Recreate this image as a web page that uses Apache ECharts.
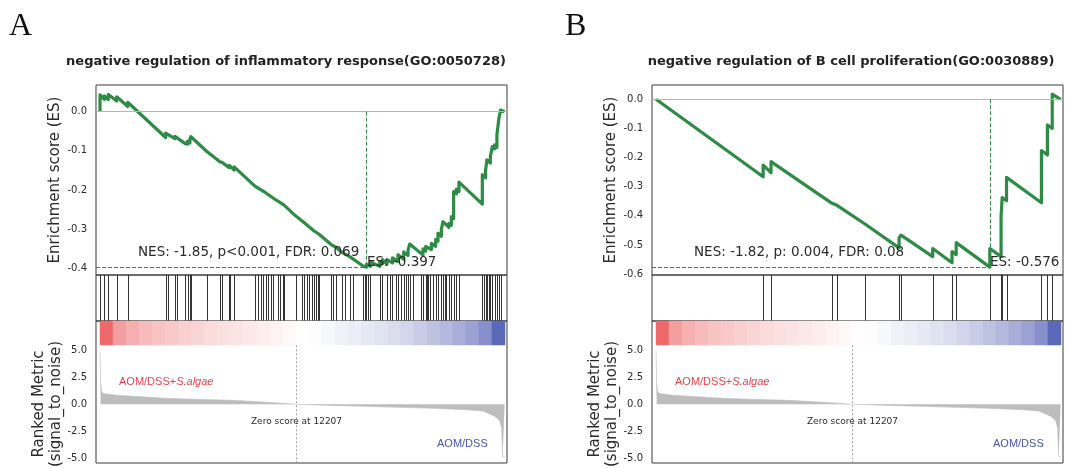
<!DOCTYPE html>
<html>
<head>
<meta charset="utf-8">
<script src="https://cdn.jsdelivr.net/npm/echarts@6/dist/echarts.min.js"></script>
<style>
html, body { margin: 0; padding: 0; background: #fff; }
#main { width: 1069px; height: 468px; }
</style>
</head>
<body>
<div id="main"></div>
<script>
// running enrichment score, [rank, ES]
var esA = [
    [0, 0], [0, 0.043], [267, 0.031], [267, 0.040], [515, 0.031], [515, 0.044], [1037, 0.027], [1037, 0.038], [1720, 0.013], [1720, 0.024],
    [4080, -0.066], [4080, -0.055], [4204, -0.060], [4204, -0.052], [4658, -0.069], [4658, -0.063], [4763, -0.067], [4763, -0.061],
    [5279, -0.081], [5279, -0.077], [5446, -0.083], [5446, -0.075], [5589, -0.080], [5589, -0.070], [5651, -0.072], [5651, -0.064],
    [6626, -0.101], [6626, -0.097], [7452, -0.128], [7452, -0.124], [7595, -0.130], [7595, -0.127], [8030, -0.143], [8030, -0.137], [8340, -0.149], [8340, -0.141],
    [9626, -0.190], [9626, -0.186], [10290, -0.207], [10290, -0.203], [11035, -0.228], [11035, -0.224], [11426, -0.238],
    [12153, -0.266], [12153, -0.263], [12625, -0.281], [12625, -0.278], [13289, -0.304], [13289, -0.300], [13619, -0.313],
    [14389, -0.340], [14389, -0.337], [14656, -0.346], [15072, -0.360], [15072, -0.357], [15525, -0.370], [15525, -0.367], [16351, -0.394], [16351, -0.391], [16562, -0.397],
    [16562, -0.390], [16810, -0.395], [16810, -0.384], [17388, -0.395], [17388, -0.382], [17556, -0.388], [17556, -0.378], [17841, -0.389], [17841, -0.378],
    [18177, -0.386], [18177, -0.373], [18524, -0.383], [18524, -0.365], [18878, -0.377], [18878, -0.358], [19146, -0.367], [19146, -0.354], [19251, -0.358], [19251, -0.338],
    [20077, -0.366], [20077, -0.350], [20245, -0.356], [20245, -0.344], [20599, -0.352], [20599, -0.336], [20866, -0.344], [20866, -0.326], [21009, -0.331], [21009, -0.310],
    [21220, -0.318], [21220, -0.300], [21320, -0.304], [21320, -0.281], [21692, -0.295], [21692, -0.285], [21841, -0.290], [21841, -0.268], [21983, -0.273], [21983, -0.204],
    [22151, -0.210], [22151, -0.198], [22313, -0.204], [22313, -0.180], [23766, -0.236], [23766, -0.161], [23971, -0.169], [23971, -0.149], [24052, -0.152], [24052, -0.123],
    [24263, -0.131], [24263, -0.115], [24387, -0.120], [24387, -0.089], [24530, -0.095], [24530, -0.085], [24673, -0.091], [24673, -0.059], [24797, -0.064], [24797, -0.017],
    [24902, -0.021], [24902, 0.004], [25150, 0.000]
];
var hitsA = [0, 267, 515, 1037, 1720, 4080, 4204, 4658, 4763, 5279, 5446, 5589, 5651, 6626, 7452, 7595, 8030, 8073, 8340,
    9626, 9830, 9979, 10141, 10290, 10451, 10619, 10762, 11035, 11178, 11346, 11426, 12153,
    12526, 12668, 12836, 12998, 13147, 13289, 13414, 13557, 13619, 14389, 14488, 14656, 15072, 15215, 15525, 15730,
    16351, 16457, 16562, 16661, 16810, 17388, 17556, 17841, 18009, 18177, 18425, 18524, 18736, 18878, 19003, 19146, 19251, 19456,
    19978, 20077, 20245, 20326, 20388, 20536, 20698, 20866, 21009, 21220, 21320, 21425, 21530, 21692, 21841, 21983, 22151, 22313,
    23766, 23846, 23971, 24052, 24176, 24263, 24387, 24530, 24673, 24797, 24902];

var esB = [
    [0, 0], [6660, -0.266], [6660, -0.226], [7150, -0.252], [7150, -0.214], [10940, -0.357], [10940, -0.352], [11250, -0.364], [11250, -0.360],
    [13010, -0.429], [13010, -0.426], [15110, -0.510], [15110, -0.475], [15230, -0.480], [15230, -0.466], [17200, -0.540], [17200, -0.512],
    [18400, -0.561], [18400, -0.523], [18660, -0.533], [18660, -0.492], [20750, -0.576], [20750, -0.512], [21450, -0.540], [21450, -0.401],
    [21520, -0.404], [21520, -0.337], [21790, -0.348], [21790, -0.268], [23960, -0.355], [23960, -0.176], [24330, -0.191], [24330, -0.088],
    [24630, -0.100], [24630, 0.018], [25150, 0.000]
];
var hitsB = [6660, 7150, 10940, 11250, 13010, 15110, 15230, 17200, 18400, 18660, 20750, 21450, 21520, 21790, 23960, 24330, 24630];

// ranked list metric (signal_to_noise), same ranking for both panels
var rankX = [0, 40, 100, 200, 1035, 2070, 4140, 6210, 8280, 10350, 12207, 14490, 16560, 18630, 20700, 22770, 23800, 24220, 24530, 24840, 24965, 25030, 25150];
var rankY = [5.0, 2.0, 1.2, 1.0, 0.85, 0.75, 0.56, 0.46, 0.37, 0.2, 0.0, -0.1, -0.19, -0.28, -0.37, -0.5, -0.62, -0.9, -1.1, -1.5, -2.2, -4.9, -4.9];
var zeroRank = 12207;

// colour bar bands, left (up) to right (down)
var cbLevels = [1.0, 0.72, 0.62, 0.55, 0.5, 0.46, 0.42, 0.38, 0.34, 0.3, 0.26, 0.22, 0.17, 0.12, 0.07, 0.02,
    -0.02, -0.07, -0.12, -0.17, -0.22, -0.27, -0.32, -0.37, -0.42, -0.47, -0.53, -0.59, -0.66, -0.75, -0.95];

var esTicksA = [-0.4, -0.3, -0.2, -0.1, 0.0];
var esTicksB = [-0.6, -0.5, -0.4, -0.3, -0.2, -0.1, 0.0];
var rankTicks = [-5, -2.5, 0, 2.5, 5];

var panels = [
    { left: 96, letter: 'A', title: 'negative regulation of inflammatory response(GO:0050728)', titleX: 286,
      es: esA, hits: hitsA, esRange: [-0.417, 0.068], esTicks: esTicksA,
      nes: 'NES: -1.85, p<0.001, FDR: 0.069', nesX: 138, esLabelX: 367 },
    { left: 652, letter: 'B', title: 'negative regulation of B cell proliferation(GO:0030889)', titleX: 851,
      es: esB, hits: hitsB, esRange: [-0.603, 0.049], esTicks: esTicksB,
      nes: 'NES: -1.82, p: 0.004, FDR: 0.08', nesX: 694, esLabelX: 990 }
];

var green = '#2e8b45';
var textColor = '#2b2b2b';
var frameColor = '#3a3a3a';
var xMin = -250, xMax = 25300;

var grids = [], xAxes = [], yAxes = [], series = [], graphics = [];
var rankData = rankX.map(function (x, i) { return [x, rankY[i]]; });
var cbIndex = cbLevels.map(function (v, i) { return i; });

function valAxisY(grid, range, ticks) {
    return {
        type: 'value', gridIndex: grid, min: range[0], max: range[1],
        axisLine: { show: false }, axisTick: { show: false }, splitLine: { show: false },
        axisLabel: {
            show: !!ticks, customValues: ticks, margin: 9, color: textColor, fontSize: 10,
            fontFamily: 'DejaVu Sans',
            formatter: function (v) { return (Math.abs(v) < 1e-9 ? 0 : v).toFixed(1); }
        }
    };
}
function valAxisX(grid) {
    return { type: 'value', gridIndex: grid, min: xMin, max: xMax, show: false };
}

panels.forEach(function (p, k) {
    var base = k * 4;
    var W = 411;
    // es plot / hits / ranked metric / colour bar
    grids.push({ left: p.left, top: 85, width: W, height: 190, show: true, borderColor: frameColor, borderWidth: 1 });
    grids.push({ left: p.left, top: 275, width: W, height: 46, show: true, borderColor: frameColor, borderWidth: 1 });
    grids.push({ left: p.left, top: 321, width: W, height: 142, show: true, borderColor: frameColor, borderWidth: 1 });
    grids.push({ left: p.left + 4, top: 321, width: 405, height: 24 });

    xAxes.push(valAxisX(base), valAxisX(base + 1), valAxisX(base + 2));
    xAxes.push({ type: 'category', gridIndex: base + 3, data: cbIndex, show: false });
    yAxes.push(valAxisY(base, p.esRange, p.esTicks));
    yAxes.push(valAxisY(base + 1, [0, 1], null));
    yAxes.push(valAxisY(base + 2, [-5.47, 7.77], rankTicks));
    yAxes.push({ type: 'category', gridIndex: base + 3, data: ['c'], show: false });

    // minimum of running score
    var minPt = p.es[0];
    p.es.forEach(function (d) { if (d[1] < minPt[1]) minPt = d; });

    series.push({
        type: 'line', xAxisIndex: base, yAxisIndex: base, data: p.es,
        showSymbol: false, silent: true, z: 3,
        lineStyle: { color: green, width: 3.2, join: 'round' },
        markLine: {
            silent: true, symbol: ['none', 'none'], label: { show: false }, animation: false,
            lineStyle: { color: green, type: [4, 2], width: 1 },
            data: [
                { yAxis: 0, lineStyle: { color: '#b5b5b5', type: 'solid', width: 1 } },
                [{ coord: [xMin, minPt[1]] }, { coord: [minPt[0], minPt[1]] }],
                [{ coord: [minPt[0], 0] }, { coord: [minPt[0], minPt[1]] }]
            ]
        }
    });
    series.push({
        type: 'custom', xAxisIndex: base + 1, yAxisIndex: base + 1, silent: true,
        data: p.hits.map(function (h) { return [h, 0]; }),
        encode: { x: 0, y: 1 },
        renderItem: function (params, api) {
            var t = api.coord([api.value(0), 1]);
            var b = api.coord([api.value(0), 0]);
            var x = Math.round(t[0]) + 0.5;
            return { type: 'line', shape: { x1: x, y1: t[1], x2: x, y2: b[1] },
                     style: { stroke: '#1e1e1e', lineWidth: 0.9 } };
        }
    });
    series.push({
        type: 'line', xAxisIndex: base + 2, yAxisIndex: base + 2, data: rankData,
        showSymbol: false, silent: true,
        lineStyle: { color: '#bdbdbd', width: 0.6 },
        areaStyle: { color: '#bdbdbd', opacity: 1, origin: 0 },
        markLine: {
            silent: true, symbol: ['none', 'none'], label: { show: false }, animation: false,
            lineStyle: { color: '#8a8a8a', type: [2, 2], width: 0.8 },
            data: [[{ coord: [zeroRank, 5.5] }, { coord: [zeroRank, -5.47] }]]
        }
    });
    series.push({
        type: 'heatmap', xAxisIndex: base + 3, yAxisIndex: base + 3, silent: true,
        data: cbLevels.map(function (v, i) { return [i, 0, v]; })
    });

    // texts
    var tf = '"DejaVu Sans", sans-serif';
    var L = p.left;
    graphics.push(
        { type: 'text', x: L - 87, y: 27, style: { text: p.letter, font: '32px "Liberation Serif", serif', fill: '#111', align: 'left', verticalAlign: 'middle' } },
        { type: 'text', x: p.titleX, y: 62, style: { text: p.title, font: 'bold 13px ' + tf, fill: '#222', align: 'center', verticalAlign: 'middle' } },
        { type: 'text', x: L - 41, y: 180, rotation: Math.PI / 2, style: { text: 'Enrichment score (ES)', font: '15px ' + tf, fill: textColor, align: 'center', verticalAlign: 'middle' } },
        { type: 'text', x: L - 57, y: 404, rotation: Math.PI / 2, style: { text: 'Ranked Metric', font: '15px ' + tf, fill: textColor, align: 'center', verticalAlign: 'middle' } },
        { type: 'text', x: L - 40, y: 404, rotation: Math.PI / 2, style: { text: '(signal_to_noise)', font: '15px ' + tf, fill: textColor, align: 'center', verticalAlign: 'middle' } },
        { type: 'text', x: p.nesX, y: 252, z: 10, style: { text: p.nes, font: '13.5px ' + tf, fill: textColor, align: 'left', verticalAlign: 'middle' } },
        { type: 'text', x: p.esLabelX, y: 262, z: 10, style: { text: 'ES: ' + minPt[1].toFixed(3), font: '13.5px ' + tf, fill: textColor, align: 'left', verticalAlign: 'middle' } },
        { type: 'text', x: L + 23, y: 382, z: 10, style: {
            text: '{n|AOM/DSS+}{i|S.algae}', align: 'left', verticalAlign: 'middle',
            rich: {
                n: { font: '11px "Liberation Sans", sans-serif', fill: '#e8434b' },
                i: { font: 'italic 11px "Liberation Sans", sans-serif', fill: '#e8434b' }
            } } },
        { type: 'text', x: L + 200.5, y: 422, z: 10, style: { text: 'Zero score at ' + zeroRank, font: '9px ' + tf, fill: textColor, align: 'center', verticalAlign: 'middle' } },
        { type: 'text', x: L + 341, y: 444, z: 10, style: { text: 'AOM/DSS', font: '11px "Liberation Sans", sans-serif', fill: '#4656b4', align: 'left', verticalAlign: 'middle' } }
    );
});

var chart = echarts.init(document.getElementById('main'), null, { renderer: 'canvas' });
chart.setOption({
    animation: false,
    backgroundColor: '#fff',
    grid: grids,
    xAxis: xAxes,
    yAxis: yAxes,
    visualMap: {
        show: false, type: 'continuous', seriesIndex: [3, 7], dimension: 2, min: -1, max: 1,
        inRange: { color: ['#4f5fb4', '#9aa0d1', '#d9dcee', '#ffffff', '#fbdcdc', '#f5a9a9', '#ee6a6a'] }
    },
    series: series,
    graphic: graphics
});
</script>
</body>
</html>
